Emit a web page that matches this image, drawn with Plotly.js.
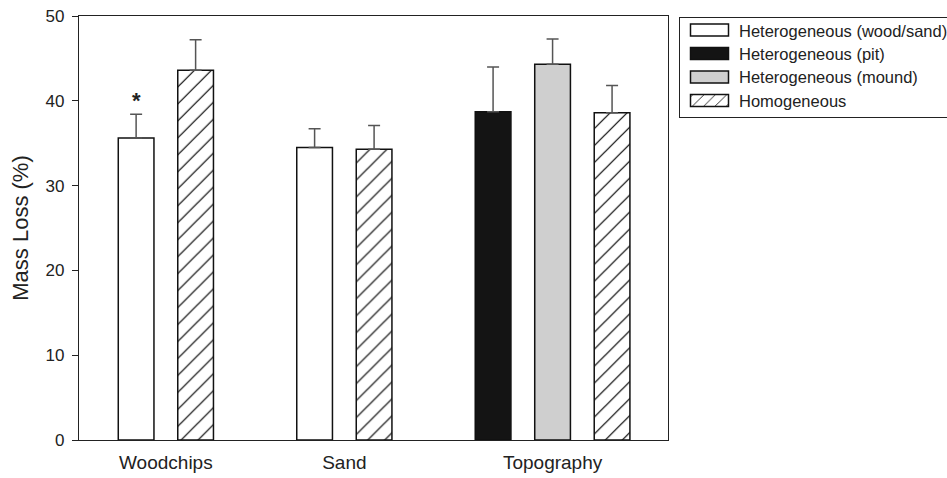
<!DOCTYPE html>
<html>
<head>
<meta charset="utf-8">
<script src="https://cdn.plot.ly/plotly-3.0.1.min.js"></script>
<style>
  html, body { margin: 0; padding: 0; background: #fff; }
  #chart { width: 947px; height: 478px; }
</style>
</head>
<body>
<div id="chart"></div>
<script>
// ---- data ----
const categories = ['Woodchips', 'Sand', 'Topography'];
const seriesNames = ['Heterogeneous (wood/sand)', 'Heterogeneous (pit)', 'Heterogeneous (mound)', 'Homogeneous'];

const woodSandValues = [35.6, 34.5];      // Woodchips, Sand
const woodSandErrors = [2.8, 2.2];
const pitValues = [38.7];                 // Topography
const pitErrors = [5.3];
const moundValues = [44.3];               // Topography
const moundErrors = [3.0];
const homogValues = [43.6, 34.3, 38.6];   // Woodchips, Sand, Topography
const homogErrors = [3.6, 2.8, 3.2];

// ---- layout: slot positions of the bars on a numeric axis ----
const slots = {
  woodSand: [0, 3],
  pit: [6],
  mound: [7],
  homog: [1, 4, 8],
  groupCenters: [0.5, 3.5, 7]
};

const FONT = 'Liberation Sans, Arial, Helvetica, sans-serif';
const barLine = { color: '#111', width: 1.5 };
const errStyle = (arr) => ({
  type: 'data', symmetric: false, array: arr, arrayminus: arr.map(() => 0),
  color: '#555', thickness: 1.5, width: 6
});

const traces = [
  {
    type: 'bar', name: seriesNames[0], x: slots.woodSand, y: woodSandValues,
    width: 0.6, marker: { color: '#ffffff', line: barLine },
    error_y: errStyle(woodSandErrors)
  },
  {
    type: 'bar', name: seriesNames[1], x: slots.pit, y: pitValues,
    width: 0.6, marker: { color: '#141414', line: barLine },
    error_y: errStyle(pitErrors)
  },
  {
    type: 'bar', name: seriesNames[2], x: slots.mound, y: moundValues,
    width: 0.6, marker: { color: '#cfcfcf', line: barLine },
    error_y: errStyle(moundErrors)
  },
  {
    type: 'bar', name: seriesNames[3], x: slots.homog, y: homogValues,
    width: 0.6,
    marker: {
      color: '#ffffff', line: barLine,
      pattern: { shape: '/', size: 12, solidity: 0.1, fgcolor: '#000', bgcolor: '#ffffff' }
    },
    error_y: errStyle(homogErrors)
  }
];

const layout = {
  width: 947, height: 478,
  margin: { l: 79, r: 279, t: 16, b: 38, autoexpand: false },
  paper_bgcolor: '#fff', plot_bgcolor: '#fff',
  barmode: 'overlay',
  showlegend: true,
  font: { family: FONT, color: '#222' },
  xaxis: {
    range: [-0.96, 8.94], fixedrange: true, automargin: false,
    tickmode: 'array', tickvals: slots.groupCenters, ticktext: categories,
    ticks: '', showgrid: false, zeroline: false, ticklabelstandoff: 5,
    showline: true, mirror: true, linecolor: '#222', linewidth: 1.2,
    tickfont: { family: FONT, size: 19, color: '#222' }
  },
  yaxis: {
    range: [0, 50], fixedrange: true, dtick: 10, automargin: false,
    ticks: 'outside', ticklen: 6, tickcolor: '#222', tickwidth: 1,
    showgrid: false, zeroline: false, ticklabelstandoff: 4,
    showline: true, mirror: true, linecolor: '#222', linewidth: 1.2,
    tickfont: { family: FONT, size: 17, color: '#222' },
    title: { text: 'Mass Loss (%)', font: { family: FONT, size: 22, color: '#222' }, standoff: 10 }
  },
  legend: {
    x: (679 - 79) / 589, xanchor: 'left', y: 0.998, yanchor: 'top',
    bgcolor: '#fff', bordercolor: '#222', borderwidth: 1,
    font: { family: FONT, size: 16.5, color: '#222' },
    itemwidth: 49, traceorder: 'normal'
  },
  annotations: [{
    x: slots.woodSand[0], y: woodSandValues[0] + woodSandErrors[0], xref: 'x', yref: 'y',
    yshift: 14, text: '<b>*</b>', showarrow: false,
    font: { family: FONT, size: 22, color: '#222' }
  }]
};

Plotly.newPlot('chart', traces, layout, { displayModeBar: false, staticPlot: true }).then(function (gd) {
  const bg = gd.querySelector('.legend rect.bg');
  if (!bg) return;
  const bgLeft = bg.getBoundingClientRect().left;
  // widen the legend swatches into rectangles like the reference
  gd.querySelectorAll('.legend .legendpoints path').forEach(function (p) {
    const r = p.getBoundingClientRect();
    if (!r.width) return;
    const zero = r.left + r.width / 2;            // local x = 0 on screen
    const a = (bgLeft + 11) - zero, b = (bgLeft + 49) - zero;
    p.setAttribute('d', 'M' + b + ',6H' + a + 'V-6H' + b + 'Z');
  });
  // tighten the legend rows a little, as in the reference
  const items = Array.from(gd.querySelectorAll('.legend g.traces'));
  let y0 = null;
  items.forEach(function (g) {
    const m = /translate\(\s*([-\d.]+)[ ,]+([-\d.]+)\s*\)/.exec(g.getAttribute('transform') || '');
    if (!m) return;
    const tx = parseFloat(m[1]), ty = parseFloat(m[2]);
    if (y0 === null) y0 = ty;
    const ny = y0 - 5 + (ty - y0) * 0.96;
    g.setAttribute('transform', 'translate(' + tx + ',' + ny + ')');
  });
  const h = parseFloat(bg.getAttribute('height'));
  if (!isNaN(h)) bg.setAttribute('height', h - 9);
});
</script>
</body>
</html>
